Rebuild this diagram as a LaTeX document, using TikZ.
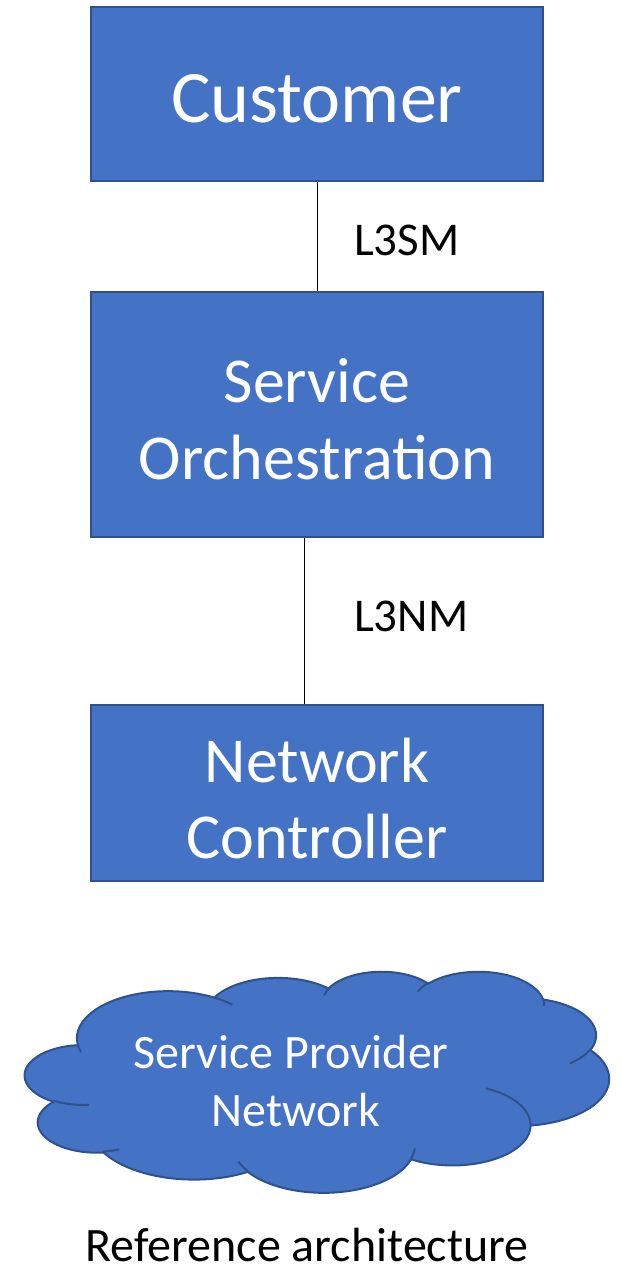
\documentclass[tikz,border=0pt]{standalone}
\usepackage{fontspec}
\setmainfont{Carlito}
\definecolor{boxfill}{HTML}{4472C4}
\definecolor{boxline}{HTML}{2F528F}

% Parametric angle of an ellipse point given its visual (ray) angle,
% kept within the same turn as the visual angle.
\newcommand\ooang[4]{%
  \pgfmathsetmacro\ootmp{atan2((#2)*sin(#4),(#3)*cos(#4))}%
  \pgfmathsetmacro#1{\ootmp+360*round(((#4)-\ootmp)/360)}}

\tikzset{
  block/.style={draw=boxline, line width=2pt, fill=boxfill,
    minimum width=452pt, inner sep=0pt},
  bigtext/.style={text=white, anchor=base, inner sep=0pt,
    font=\fontsize{74}{74}\selectfont},
  boxtext/.style={text=white, anchor=base, inner sep=0pt,
    font=\fontsize{64}{64}\selectfont},
  tag/.style={anchor=base west, inner sep=0pt,
    font=\fontsize{47}{47}\selectfont},
  cloudtext/.style={text=white, anchor=base, inner sep=0pt,
    font=\fontsize{48}{48}\selectfont},
  caption/.style={anchor=base, inner sep=0pt,
    font=\fontsize{48}{48}\selectfont},
  link/.style={draw=black, line width=1pt},
  cloud line/.style={draw=boxline, line width=2pt, fill=boxfill, line join=round},
  cloud fold/.style={draw=boxline, line width=2pt, line cap=round},
}

\begin{document}
\begin{tikzpicture}[x=1pt, y=-1pt]
\useasboundingbox (0,0) rectangle (621,1265);

% boxes
\node[block, minimum height=174pt] (customer) at (317,94) {};
\node[block, minimum height=245pt] (orch) at (317,414.5) {};
\node[block, minimum height=176pt] (ctrl) at (317,793) {};

\node[bigtext] (customer-t) at (317,123) {Customer};
\node[boxtext] (orch-t1) at (317,402) {Service};
\node[boxtext] (orch-t2) at (317,479) {Orchestration};
\node[boxtext] (ctrl-t1) at (317,782) {Network};
\node[boxtext] (ctrl-t2) at (317,858) {Controller};

% interfaces
\coordinate (tap) at (304,0);
\draw[link] (customer) -- (orch);
\draw[link] (orch.south -| tap) -- (ctrl.north -| tap);
\node[tag] (l3sm) at (354,255) {L3SM};
\node[tag] (l3nm) at (354,631) {L3NM};

% cloud outline: eleven elliptic puffs
\ooang\puffAs{67.53}{91.90}{-190.4875}\ooang\puffAe{67.53}{91.90}{-190.4875+123.7805}
\ooang\puffBs{53.33}{72.67}{-144.1024}\ooang\puffBe{53.33}{72.67}{-144.1024+89.9452}
\ooang\puffCs{43.65}{59.45}{-145.8079}\ooang\puffCe{43.65}{59.45}{-145.8079+99.7230}
\ooang\puffDs{48.57}{65.95}{-130.9861}\ooang\puffDe{48.57}{65.95}{-130.9861+117.2417}
\ooang\puffEs{53.33}{72.73}{-78.7089}\ooang\puffEe{53.33}{72.73}{-78.7089+109.0269}
\ooang\puffFs{67.75}{92.20}{-46.2673}\ooang\puffFe{67.75}{92.20}{-46.2673+130.2690}
\ooang\puffGs{57.85}{78.67}{0.6250}\ooang\puffGe{57.85}{78.67}{0.6250+114.0333}
\ooang\puffHs{67.52}{92.15}{22.4516}\ooang\puffHe{67.52}{92.15}{22.4516+115.1726}
\ooang\puffIs{77.20}{105.43}{66.2426}\ooang\puffIe{77.20}{105.43}{66.2426+75.7110}
\ooang\puffJs{43.60}{59.18}{-274.9421}\ooang\puffJe{43.60}{59.18}{-274.9421+146.7356}
\ooang\puffKs{43.45}{59.45}{-246.8285}\ooang\puffKe{43.45}{59.45}{-246.8285+152.5189}
% inner folds continuing the puffs
\ooang\foldAs{43.45}{59.45}{86.7420}\ooang\foldAe{43.45}{59.45}{86.7420+26.4295}
\ooang\foldBs{43.60}{59.18}{73.6105}\ooang\foldBe{43.60}{59.18}{73.6105+11.4475}
\ooang\foldCs{67.52}{92.15}{137.6242}\ooang\foldCe{67.52}{92.15}{137.6242+14.0811}
\ooang\foldDs{67.52}{92.15}{6.4533}\ooang\foldDe{67.52}{92.15}{6.4533+15.9984}
\ooang\foldEs{57.85}{78.67}{-70.2924}\ooang\foldEe{57.85}{78.67}{-70.2924+70.9174}
\ooang\foldFs{53.33}{72.73}{30.3180}\ooang\foldFe{53.33}{72.73}{30.3180+27.7515}
\ooang\foldGs{48.57}{65.95}{-13.7443}\ooang\foldGe{48.57}{65.95}{-13.7443+14.8589}
\ooang\foldHs{48.57}{65.95}{-149.1815}\ooang\foldHe{48.57}{65.95}{-149.1815+18.1954}
\ooang\foldIs{43.65}{59.45}{-163.4943}\ooang\foldIe{43.65}{59.45}{-163.4943+17.6864}
\ooang\foldJs{67.53}{91.90}{-66.7070}\ooang\foldJe{67.53}{91.90}{-66.7070+12.3194}
\ooang\foldKs{67.53}{91.90}{157.6544}\ooang\foldKe{67.53}{91.90}{157.6544+11.8582}

\begin{scope}[shift={(25,971)}, x=1.3519pt, y=-0.5116pt]
  \draw[cloud line] (39.00,143.70)
    arc[start angle=\puffAs, end angle=\puffAe, x radius=67.53, y radius=91.90]
    arc[start angle=\puffBs, end angle=\puffBe, x radius=53.33, y radius=72.67]
    arc[start angle=\puffCs, end angle=\puffCe, x radius=43.65, y radius=59.45]
    arc[start angle=\puffDs, end angle=\puffDe, x radius=48.57, y radius=65.95]
    arc[start angle=\puffEs, end angle=\puffEe, x radius=53.33, y radius=72.73]
    arc[start angle=\puffFs, end angle=\puffFe, x radius=67.75, y radius=92.20]
    arc[start angle=\puffGs, end angle=\puffGe, x radius=57.85, y radius=78.67]
    arc[start angle=\puffHs, end angle=\puffHe, x radius=67.52, y radius=92.15]
    arc[start angle=\puffIs, end angle=\puffIe, x radius=77.20, y radius=105.43]
    arc[start angle=\puffJs, end angle=\puffJe, x radius=43.60, y radius=59.18]
    arc[start angle=\puffKs, end angle=\puffKe, x radius=43.45, y radius=59.45]
    -- cycle;
  \draw[cloud fold]
    (46.93,261.77) arc[start angle=\foldAs, end angle=\foldAe, x radius=43.45, y radius=59.45]
    (69.28,348.99) arc[start angle=\foldBs, end angle=\foldBe, x radius=43.60, y radius=59.18]
    (164.78,390.90) arc[start angle=\foldCs, end angle=\foldCe, x radius=67.52, y radius=92.15]
    (288.27,347.51) arc[start angle=\foldDs, end angle=\foldDe, x radius=67.52, y radius=92.15]
    (341.29,229.54) arc[start angle=\foldEs, end angle=\foldEe, x radius=57.85, y radius=78.67]
    (417.98,153.54) arc[start angle=\foldFs, end angle=\foldFe, x radius=53.33, y radius=72.73]
    (383.24,54.26) arc[start angle=\foldGs, end angle=\foldGe, x radius=48.57, y radius=65.95]
    (290.78,39.52) arc[start angle=\foldHs, end angle=\foldHe, x radius=48.57, y radius=65.95]
    (221.41,47.20) arc[start angle=\foldIs, end angle=\foldIe, x radius=43.65, y radius=59.45]
    (140.00,51.92) arc[start angle=\foldJs, end angle=\foldJe, x radius=67.53, y radius=91.90]
    (41.27,157.89) arc[start angle=\foldKs, end angle=\foldKe, x radius=67.53, y radius=91.90];
\end{scope}

\node[cloudtext] (spn-t1) at (291,1068) {Service Provider};
\node[cloudtext] (spn-t2) at (296,1126) {Network};

\node[caption] (caption) at (307,1261) {Reference architecture};
\end{tikzpicture}
\end{document}
